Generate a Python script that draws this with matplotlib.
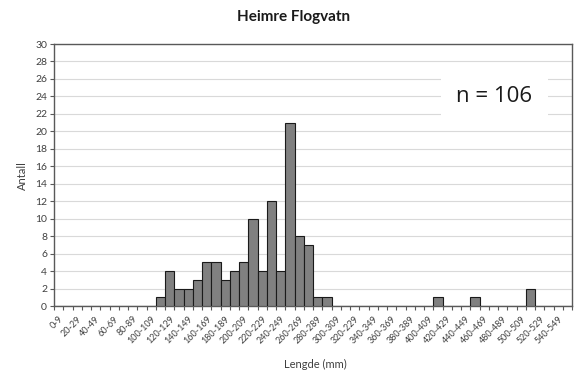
import numpy as np
import matplotlib
matplotlib.use("Agg")
import matplotlib.pyplot as plt

# lengdeklasser 0-9 ... 550-559 (56 klasser), merket annenhver
klasser = ["%d-%d" % (10 * i, 10 * i + 9) for i in range(56)]
klasser[32] = "320-229"  # skrivefeil som i originalen

# antall fisk per klasse (ikke-null verdier)
antall_dict = {
    "110-119": 1, "120-129": 4, "130-139": 2, "140-149": 2, "150-159": 3,
    "160-169": 5, "170-179": 5, "180-189": 3, "190-199": 4, "200-209": 5,
    "210-219": 10, "220-229": 4, "230-239": 12, "240-249": 4, "250-259": 21,
    "260-269": 8, "270-279": 7, "280-289": 1, "290-299": 1,
    "410-419": 1, "450-459": 1, "510-519": 2,
}
antall = [antall_dict.get("%d-%d" % (10 * i, 10 * i + 9), 0) for i in range(56)]

tittel = "Heimre Flogvatn"
n_tekst = "n = 106"

plt.rcParams['font.family'] = ['Lato', 'DejaVu Sans']
grey = "#595959"
txt = "#404040"

fig = plt.figure(figsize=(5.77, 3.78), dpi=100)
ax = fig.add_axes([54 / 577, 1 - 306 / 378, (572 - 54) / 577, (306 - 44) / 378])

x = np.arange(len(klasser))
ax.bar(x, antall, width=1.0, color="#808080", edgecolor="#1a1a1a", linewidth=0.8, zorder=3)

ax.set_xlim(-0.5, len(klasser) - 0.5)
ax.set_ylim(0, 30)
ax.set_yticks(np.arange(0, 31, 2))
ax.grid(axis='y', color="#d9d9d9", linewidth=0.8, zorder=0)
ax.set_axisbelow(True)

# etiketter paa annenhver klasse, tikk paa klassegrensene
ax.set_xticks(x[::2])
ax.set_xticklabels(klasser[::2], rotation=45, ha='right', rotation_mode='anchor',
                   fontsize=6.5, color=txt)
ax.set_xticks(np.arange(-0.5, len(klasser), 1), minor=True)
ax.tick_params(axis='x', which='major', length=0, pad=6)
ax.tick_params(axis='x', which='minor', length=3, color=grey, width=0.8, direction='out')
ax.tick_params(axis='y', length=3, color=grey, width=0.8, labelsize=7.5, labelcolor=txt, pad=2)

for s in ax.spines.values():
    s.set_color(grey)
    s.set_linewidth(1.0)

ax.text(0.85, 0.80, n_tekst, transform=ax.transAxes, ha='center', va='center',
        fontsize=16, family=['Open Sans', 'DejaVu Sans'], color="#1a1a1a", zorder=5,
        bbox=dict(facecolor='white', edgecolor='none', boxstyle='square,pad=0.7'))

fig.text(0.508, 1 - 17 / 378, tittel, ha='center', va='center', fontsize=11,
         fontweight='bold', color="#1a1a1a")
fig.text(22 / 577, 1 - 176 / 378, "Antall", rotation=90, ha='center', va='center',
         fontsize=8, color=txt)
fig.text(315 / 577, 1 - 364 / 378, "Lengde (mm)", ha='center', va='center',
         fontsize=8, color=txt)

fig.savefig("out.png", dpi=100)
